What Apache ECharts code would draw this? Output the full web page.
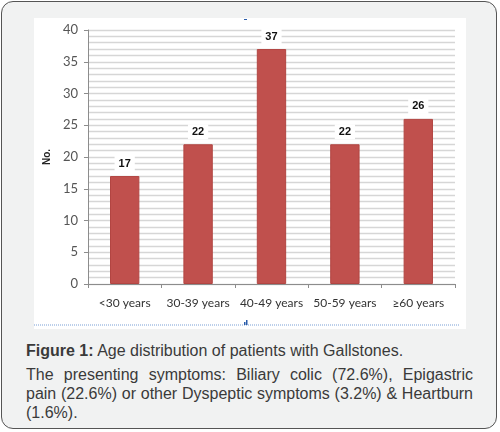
<!DOCTYPE html>
<html>
<head>
<meta charset="utf-8">
<script src="https://cdn.jsdelivr.net/npm/echarts@6/dist/echarts.min.js"></script>
<style>
  html, body { margin: 0; padding: 0; background: #fff; }
  #frame {
    position: absolute; left: 1px; top: 1px; width: 494px; height: 426px;
    background: #f1f2f2; border: 1.5px solid #555; border-radius: 12px;
  }
  #chart {
    position: absolute; left: 34px; top: 18px; width: 432px; height: 311px;
    background: #fff;
  }
  #caption {
    position: absolute; left: 26px; top: 341px; width: 447px;
    font-family: "Liberation Sans", Arial, sans-serif; font-size: 16px;
    line-height: 19px; color: #3a3a3a;
  }
  #caption p { margin: 0; text-align: justify; }
  #caption p + p { margin-top: 5px; }
</style>
</head>
<body>
<div id="frame"></div>
<div id="chart"></div>
<div id="caption">
  <p><b>Figure 1:</b> Age distribution of patients with Gallstones.</p>
  <p>The presenting symptoms: Biliary colic (72.6%), Epigastric pain (22.6%) or other Dyspeptic symptoms (3.2%) &amp; Heartburn (1.6%).</p>
</div>
<script>
var ageGroups = ['<30 years', '30-39 years', '40-49 years', '50-59 years', '≥60 years'];
var patientCounts = [17, 22, 37, 22, 26];
var yTicks = [0, 5, 10, 15, 20, 25, 30, 35, 40];

var myChart = echarts.init(document.getElementById('chart'));
var option = {
    backgroundColor: '#fff',
    animation: false,
    grid: { left: 47, right: 11, top: 12, bottom: 45 },
    xAxis: {
        type: 'category',
        data: ageGroups,
        axisLine: { lineStyle: { color: '#8c8c8c' } },
        axisTick: { show: true, length: 4, lineStyle: { color: '#8c8c8c' } },
        axisLabel: { interval: 0, color: '#333', fontFamily: 'Lato', fontSize: 12, margin: 13 }
    },
    yAxis: {
        type: 'value',
        min: yTicks[0],
        max: yTicks[yTicks.length - 1],
        interval: 5,
        name: 'No.',
        nameLocation: 'middle',
        nameGap: 33,
        nameRotate: 90,
        nameTextStyle: { fontFamily: 'Liberation Sans', fontWeight: 'bold', fontSize: 10, color: '#222' },
        axisLine: { show: true, lineStyle: { color: '#8c8c8c' } },
        axisTick: { show: true, length: 4, lineStyle: { color: '#8c8c8c' } },
        axisLabel: { color: '#555', fontFamily: 'Lato', fontSize: 13, margin: 10 },
        splitLine: { show: true, lineStyle: { color: '#d6d6d6', width: 1.3 } },
        minorTick: { show: false, splitNumber: 5 },
        minorSplitLine: { show: true, lineStyle: { color: '#d6d6d6', width: 1.3 } }
    },
    series: [{
        type: 'bar',
        data: patientCounts,
        barWidth: '40%',
        itemStyle: { color: '#c0504d', borderColor: '#b24542', borderWidth: 1 },
        label: {
            show: true,
            position: 'top',
            distance: 5,
            fontFamily: 'Liberation Sans',
            fontWeight: 'bold',
            fontSize: 11,
            color: '#111',
            backgroundColor: '#fff',
            padding: [2, 4]
        }
    }],
    graphic: [
        { type: 'line', shape: { x1: 0, y1: 307, x2: 425, y2: 307 },
          style: { stroke: '#7a9fd6', lineWidth: 1, lineDash: [1, 1] }, silent: true },
        { type: 'rect', shape: { x: 210, y: 304, width: 1.5, height: 3 }, style: { fill: '#2a5caa' }, silent: true },
        { type: 'rect', shape: { x: 212, y: 302, width: 1.5, height: 5 }, style: { fill: '#2a5caa' }, silent: true },
        { type: 'rect', shape: { x: 210, y: 1, width: 3, height: 1 }, style: { fill: '#2a5caa' }, silent: true }
    ]
};
myChart.setOption(option);
</script>
</body>
</html>
